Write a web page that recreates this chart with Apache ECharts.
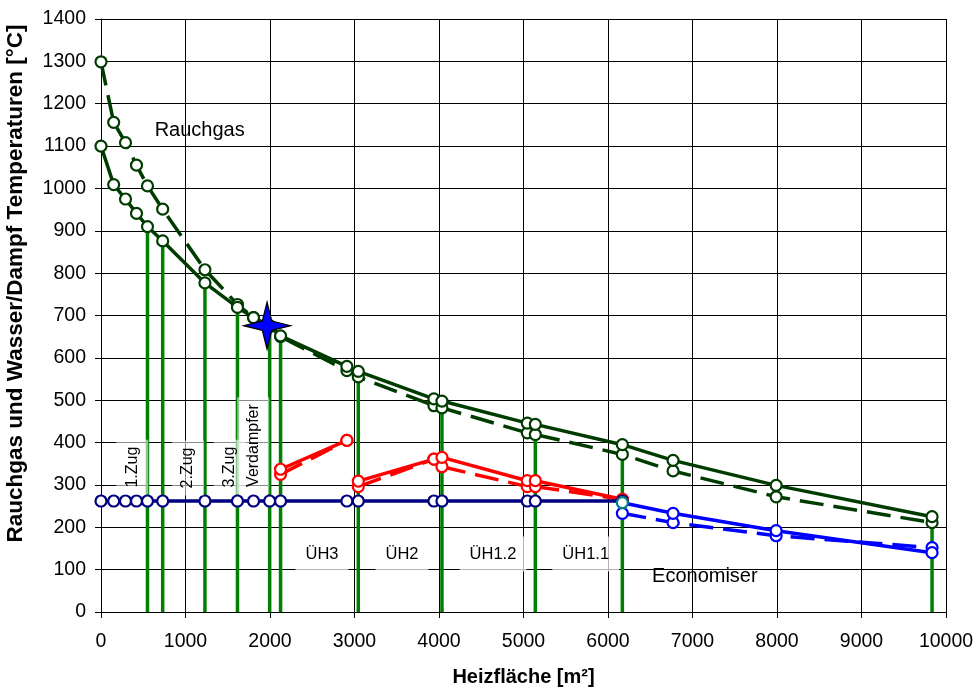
<!DOCTYPE html>
<html><head><meta charset="utf-8">
<script src="https://cdn.jsdelivr.net/npm/echarts@6/dist/echarts.min.js"></script>
<style>html,body{margin:0;padding:0;background:#fff}#c{width:977px;height:691px}</style>
</head><body><div id="c"></div>
<script>
// Heating-surface positions (m²)
const xs = [0,150,290,420,550,730,1230,1615,1805,1996,2125,2910,3045,3940,4035,5045,5140,6170,6770,7990,9835];
// Flue gas (Rauchgas) temperatures
const gasSolid  = [1100,1009,975,941,910,876,777,719,695,676,652,580,568,503,498,446,443,395,358,299,225];
const gasDashed = [1299,1156,1108,1055,1006,951,808,726,695,674,650,570,555,487,482,423,419,372,333,272,211];
// Evaporator water/steam saturation line (up to 6170)
const waterX = xs.slice(0, 18);
const waterY = [262,262,262,262,262,262,262,262,262,262,262,262,262,262,262,262,262,262];
// Superheaters
const uh3X = [2125,2910],  uh3Solid = [337,405],  uh3Dashed = [325,405];
const uh2X = [3045,3940],  uh2Solid = [309,361],  uh2Dashed = [296,361];
const uh12X = [4035,5045], uh12Solid = [365,310], uh12Dashed = [343,296];
const uh11X = [5140,6170], uh11Solid = [310,266], uh11Dashed = [296,266];
// Economiser
const ecoX = [6170,6770,7990,9835];
const ecoSolid  = [258,233,192,140];
const ecoDashed = [233,211,180,152];
// Section boundaries (vertical lines)
const vertX   = [550,730,1230,1615,1996,2125,3045,4035,5140,6170,9835];
const vertTop = [910,876,777,719,676,652,555,482,419,372,211];
// Design point (star)
const starPt = [1965,676];
// Tick labels
const xTicks = [0,1000,2000,3000,4000,5000,6000,7000,8000,9000,10000];
const yTicks = [0,100,200,300,400,500,600,700,800,900,1000,1100,1200,1300,1400];
// Text annotations (data coordinates)
const annText = ['Rauchgas','Economiser','1.Zug','2.Zug','3.Zug','Verdampfer','ÜH3','ÜH2','ÜH1.2','ÜH1.1'];
const annX    = [1168, 7146, 370, 1030, 1523, 1801, 2615, 3562, 4639, 5736];
const annY    = [1136, 85, 342, 340, 342, 393, 137, 137, 137, 137];
const annKind = ['big','big','rot','rot','rot','rot','box','box','box','box'];

const FONT = 'Liberation Sans';
const GAS = '#003c00', GREEN = '#008000', RED = '#ff0000', NAVY = '#000080', BLUE = '#0000ff', TEAL = '#008080';
const zip = (a, b) => a.map((v, i) => [v, b[i]]);
const DASH = [24, 10];

function lineSeries(x, y, color, dashed) {
  return {
    type: 'line', data: zip(x, y), symbol: 'circle', symbolSize: 11,
    showAllSymbol: true,
    lineStyle: { color: color, width: 3.5, type: dashed ? DASH : 'solid' },
    itemStyle: { color: '#fff', borderColor: color, borderWidth: 2.2, opacity: 1 },
    z: 3, silent: true
  };
}

const series = [];
vertX.forEach((x, i) => {
  series.push({ type: 'line', data: [[x, 0], [x, vertTop[i]]], symbol: 'none',
    lineStyle: { color: GREEN, width: 3.5 }, z: 2, silent: true });
});
series.push(lineSeries(xs, gasDashed, GAS, true));
series.push(lineSeries(xs, gasSolid, GAS, false));
series.push(lineSeries(uh3X, uh3Dashed, RED, true));
series.push(lineSeries(uh3X, uh3Solid, RED, false));
series.push(lineSeries(uh2X, uh2Dashed, RED, true));
series.push(lineSeries(uh2X, uh2Solid, RED, false));
series.push(lineSeries(uh12X, uh12Dashed, RED, true));
series.push(lineSeries(uh12X, uh12Solid, RED, false));
series.push(lineSeries(uh11X, uh11Dashed, RED, true));
series.push(lineSeries(uh11X, uh11Solid, RED, false));
series.push(lineSeries(waterX, waterY, NAVY, false));
series.push(lineSeries(ecoX, ecoDashed, BLUE, true));
const ecoS = lineSeries(ecoX, ecoSolid, BLUE, false);
ecoS.data = ecoS.data.map((p, i) => i === 0 ? { value: p, itemStyle: { borderColor: TEAL } } : p);
series.push(ecoS);

series.push({
  type: 'scatter', data: [starPt], z: 6, silent: true,
  symbol: 'path://M0,-50 L10,-10 L50,0 L10,10 L0,50 L-10,10 L-50,0 L-10,-10 Z',
  symbolSize: [47, 47],
  itemStyle: { color: BLUE, borderColor: '#000', borderWidth: 1.2, opacity: 1 }
});

const chart = echarts.init(document.getElementById('c'), null, { renderer: 'canvas' });
chart.setOption({
  animation: false,
  backgroundColor: '#fff',
  grid: { left: 101, right: 31, top: 19, bottom: 79, containLabel: false, outerBoundsMode: 'none' },
  xAxis: {
    type: 'value', min: xTicks[0], max: xTicks[xTicks.length - 1], interval: 1000,
    name: 'Heizfläche [m²]', nameLocation: 'middle', nameGap: 55,
    nameTextStyle: { fontFamily: FONT, fontSize: 20, fontWeight: 'bold', color: '#000' },
    axisLine: { show: true, lineStyle: { color: '#000', width: 1 } },
    axisTick: { show: true, length: 6, lineStyle: { color: '#000' } },
    axisLabel: { fontFamily: FONT, fontSize: 19.5, color: '#000', margin: 20, formatter: v => String(v) },
    splitLine: { show: true, lineStyle: { color: '#000', width: 1 } }
  },
  yAxis: {
    type: 'value', min: yTicks[0], max: yTicks[yTicks.length - 1], interval: 100,
    name: 'Rauchgas und Wasser/Dampf Temperaturen [°C]', nameLocation: 'middle', nameGap: 74,
    nameTextStyle: { fontFamily: FONT, fontSize: 22.5, fontWeight: 'bold', color: '#000', padding: [0, 0, 0, 64] },
    axisLine: { show: true, lineStyle: { color: '#000', width: 1 } },
    axisTick: { show: true, length: 6, lineStyle: { color: '#000' } },
    axisLabel: { fontFamily: FONT, fontSize: 19.5, color: '#000', margin: 15, formatter: v => String(v) },
    splitLine: { show: true, lineStyle: { color: '#000', width: 1 } }
  },
  series: series
});

// Place the text annotations at their data coordinates
const graphics = annText.map((t, i) => {
  const p = chart.convertToPixel({ xAxisIndex: 0, yAxisIndex: 0 }, [annX[i], annY[i]]);
  const k = annKind[i];
  const style = {
    text: t, fill: '#000', align: 'center', verticalAlign: 'middle',
    font: (k === 'big' ? 20 : k === 'box' ? 16.5 : 16) + 'px "' + FONT + '"'
  };
  if (k === 'rot') { style.backgroundColor = 'rgba(255,255,255,0.55)'; style.padding = [8, 7]; }
  if (k === 'box') { style.backgroundColor = 'rgba(255,255,255,0.7)'; style.padding = [9, 10]; }
  return { type: 'text', x: p[0], y: p[1], rotation: k === 'rot' ? Math.PI / 2 : 0, z: 100, silent: true, style: style };
});
chart.setOption({ graphic: graphics });
</script>
</body></html>
